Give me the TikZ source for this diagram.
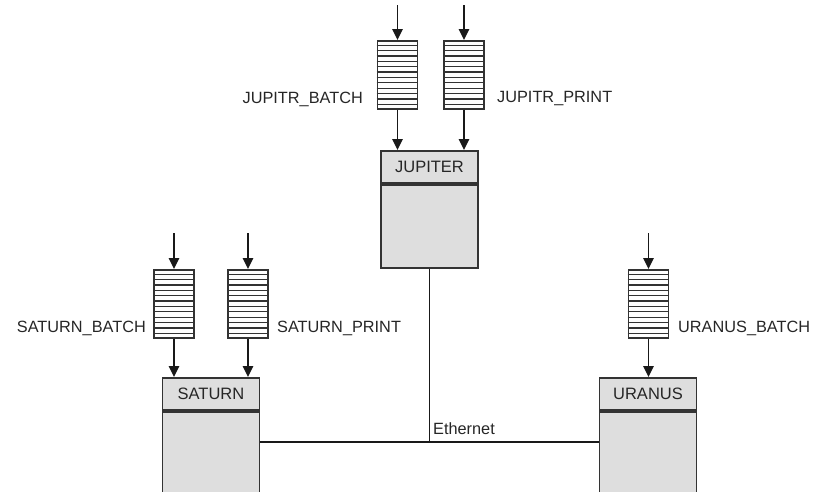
\documentclass[tikz,border=0pt]{standalone}
\usepackage{fontspec}
\setmainfont{Liberation Sans}
\usepackage{tikz}
\usetikzlibrary{arrows.meta,calc}

\begin{document}
\begin{tikzpicture}[x=1pt, y=-1pt, >={Triangle[length=11pt,width=10.5pt]},
	coda/.style={draw=black!80, fill=white, line width=1.6pt, minimum width=40pt, minimum height=68pt, inner sep=0pt},
	riga/.style={draw=black!80, line width=1.3pt},
	host/.style={draw=black!80, fill=black!13, line width=1.8pt, minimum width=97pt, minimum height=83pt, inner sep=0pt},
	testa/.style={draw=black!80, fill=black!13, line width=1.8pt, minimum width=97pt, minimum height=32pt, inner sep=0pt, font=\fontsize{16.5}{18}\selectfont, text=black!85},
	link/.style={->, draw=black!90, line width=1.5pt},
	rete/.style={draw=black!90, line width=1.5pt},
	etichetta/.style={font=\fontsize{16.3}{18}\selectfont, text=black!85, inner sep=0pt}]

	\useasboundingbox (0,0) rectangle (816,491);

	% host
	\node[testa, anchor=north] (jupt) at (429.5,150) {JUPITER};
	\node[host, anchor=north] (jup) at (jupt.south) {};
	\node[testa, anchor=north] (satt) at (211,377) {SATURN};
	\node[host, anchor=north] (sat) at (satt.south) {};
	\node[testa, anchor=north] (urat) at (648,377) {URANUS};
	\node[host, anchor=north] (ura) at (urat.south) {};

	% code
	\node[coda, anchor=north] (jb) at (397.5,40) {};
	\node[coda, anchor=north] (jp) at (464,40) {};
	\node[coda, anchor=north] (sb) at (174,269) {};
	\node[coda, anchor=north] (sp) at (248,269) {};
	\node[coda, anchor=north] (ub) at (648.5,269) {};
	\foreach \q in {jb,jp,sb,sp,ub}
		\foreach \i in {1,...,12}
			\draw[riga] ($(\q.north west)!\i/13!(\q.south west)$) -- ($(\q.north east)!\i/13!(\q.south east)$);

	% ingressi
	\coordinate (jbin) at (397.5,5);
	\coordinate (jpin) at (464,5);
	\coordinate (sbin) at (174,233);
	\coordinate (spin) at (248,233);
	\coordinate (ubin) at (648.5,233);
	\draw[link] (jbin) -- (jb);
	\draw[link] (jpin) -- (jp);
	\draw[link] (sbin) -- (sb);
	\draw[link] (spin) -- (sp);
	\draw[link] (ubin) -- (ub);

	% code verso host
	\draw[link] (jb) -- (jb |- jupt.north);
	\draw[link] (jp) -- (jp |- jupt.north);
	\draw[link] (sb) -- (sb |- satt.north);
	\draw[link] (sp) -- (sp |- satt.north);
	\draw[link] (ub) -- (ub |- urat.north);

	% rete
	\coordinate (nodo) at (jup.south |- 0,442);
	\draw[rete] (jup.south) -- (nodo);
	\draw[rete] (sat.east |- nodo) -- (ura.west |- nodo);
	\node[etichetta, anchor=west] (eth) at (433,429) {Ethernet};

	% etichette
	\node[etichetta, anchor=east] (jbl) at (363,99) {JUPITR\_BATCH};
	\node[etichetta, anchor=west] (jpl) at (497,99) {JUPITR\_PRINT};
	\node[etichetta, anchor=east] (sbl) at (146,328) {SATURN\_BATCH};
	\node[etichetta, anchor=west] (spl) at (277,328) {SATURN\_PRINT};
	\node[etichetta, anchor=west] (ubl) at (678,328) {URANUS\_BATCH};
\end{tikzpicture}
\end{document}
